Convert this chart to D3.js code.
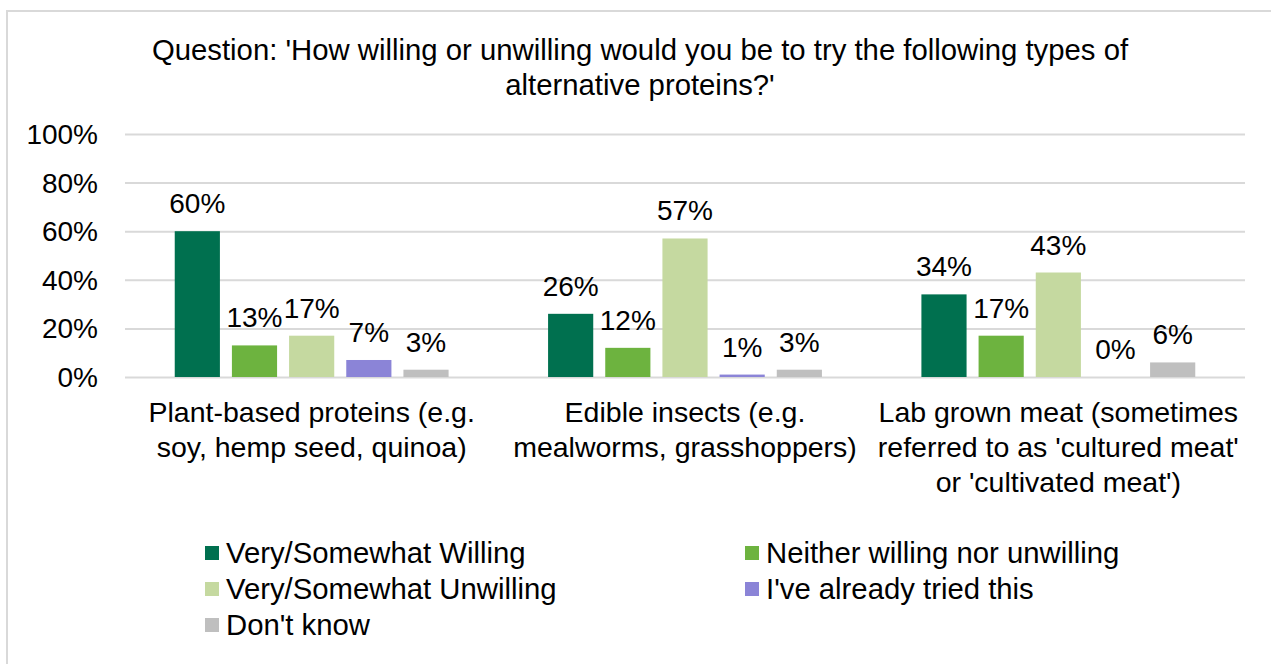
<!DOCTYPE html>
<html>
<head>
<meta charset="utf-8">
<script src="https://cdn.jsdelivr.net/npm/d3@7"></script>
<style>
  body { margin: 0; background: #fff; }
  text { font-family: "Liberation Sans", Arial, sans-serif; fill: #000; }
</style>
</head>
<body>
<div id="vis"></div>
<script>
// data
const CATEGORIES = ["Plant-based", "Insects", "Lab grown"];
const CATEGORY_LINES = [
  ["Plant-based proteins (e.g.", "soy, hemp seed, quinoa)"],
  ["Edible insects (e.g.", "mealworms, grasshoppers)"],
  ["Lab grown meat (sometimes", "referred to as 'cultured meat'", "or 'cultivated meat')"]
];
const SERIES = ["Very/Somewhat Willing", "Neither willing nor unwilling", "Very/Somewhat Unwilling",
                "I've already tried this", "Don't know"];
const COLORS = ["#00704f", "#6db33f", "#c5d9a0", "#8b84d7", "#bfbfbf"];
const WILLING = [60, 26, 34];
const NEITHER = [13, 12, 17];
const UNWILLING = [17, 57, 43];
const TRIED = [7, 1, 0];
const DONT_KNOW = [3, 3, 6];
const VALUES = [WILLING, NEITHER, UNWILLING, TRIED, DONT_KNOW];
const Y_TICKS = [0, 20, 40, 60, 80, 100];
const TITLE_LINES = ["Question: 'How willing or unwilling would you be to try the following types of",
                     "alternative proteins?'"];

//frame
const FRAME_WIDTH = 1271;
const FRAME_HEIGHT = 664;
const PLOT = {left: 125, right: 1245, top: 134, bottom: 377};

const svg = d3.select("#vis")
              .append("svg")
                .attr("width", FRAME_WIDTH)
                .attr("height", FRAME_HEIGHT);

// border (only top and left visible)
svg.append("rect")
   .attr("x", 7).attr("y", 11)
   .attr("width", FRAME_WIDTH + 10).attr("height", FRAME_HEIGHT + 10)
   .attr("fill", "none")
   .attr("stroke", "#d9d9d9")
   .attr("stroke-width", 2);

// title
svg.append("g").selectAll("text")
   .data(TITLE_LINES)
   .enter()
   .append("text")
     .attr("x", 640)
     .attr("y", (d, i) => 60 + i * 35)
     .attr("text-anchor", "middle")
     .style("font-size", "29.3px")
     .text(d => d);

// scales
const X0 = d3.scaleBand().domain(CATEGORIES).range([PLOT.left, PLOT.right]);
const X1 = d3.scaleBand().domain(SERIES).range([0, X0.bandwidth()])
             .paddingInner(0.21).paddingOuter(0.87);
const Y = d3.scaleLinear().domain([0, 100]).range([PLOT.bottom, PLOT.top]);

// gridlines
svg.append("g")
   .attr("transform", "translate(" + PLOT.left + ",0)")
   .call(d3.axisLeft(Y).tickValues(Y_TICKS).tickSize(-(PLOT.right - PLOT.left)).tickFormat(""))
   .call(g => g.select(".domain").remove())
   .call(g => g.selectAll("line").attr("stroke", "#d9d9d9").attr("stroke-width", 2));

// y tick labels
svg.append("g").selectAll("text")
   .data(Y_TICKS)
   .enter()
   .append("text")
     .attr("x", 98)
     .attr("y", d => Y(d) + 10)
     .attr("text-anchor", "end")
     .style("font-size", "28px")
     .text(d => d + "%");

// bars
const groups = svg.append("g").selectAll("g")
   .data(SERIES)
   .enter()
   .append("g")
     .attr("fill", (d, i) => COLORS[i]);

groups.selectAll("rect")
   .data((s, si) => CATEGORIES.map((c, ci) => ({c: c, s: s, v: VALUES[si][ci]})))
   .enter()
   .append("rect")
     .attr("x", d => X0(d.c) + X1(d.s))
     .attr("y", d => Y(d.v))
     .attr("width", X1.bandwidth())
     .attr("height", d => Y(0) - Y(d.v));

// value labels
groups.selectAll("text")
   .data((s, si) => CATEGORIES.map((c, ci) => ({c: c, s: s, v: VALUES[si][ci]})))
   .enter()
   .append("text")
     .attr("x", d => X0(d.c) + X1(d.s) + X1.bandwidth() / 2)
     .attr("y", d => Y(d.v) - 18)
     .attr("text-anchor", "middle")
     .style("font-size", "28px")
     .text(d => d.v + "%");

// category labels
const catLabels = svg.append("g").selectAll("text")
   .data(CATEGORIES)
   .enter()
   .append("text")
     .attr("text-anchor", "middle")
     .style("font-size", "28.5px");

catLabels.selectAll("tspan")
   .data((d, i) => CATEGORY_LINES[i].map(l => ({c: d, l: l})))
   .enter()
   .append("tspan")
     .attr("x", d => X0(d.c) + X0.bandwidth() / 2)
     .attr("y", (d, i) => 422 + i * 35)
     .text(d => d.l);

// legend
const LEG_X = [205, 745];
const legend = svg.append("g").selectAll("g")
   .data(SERIES)
   .enter()
   .append("g")
     .attr("transform", (d, i) => "translate(" + LEG_X[i % 2] + "," + (553 + Math.floor(i / 2) * 36) + ")");

legend.append("rect")
   .attr("x", 0).attr("y", -7)
   .attr("width", 14).attr("height", 14)
   .attr("fill", (d, i) => COLORS[i]);

legend.append("text")
   .attr("x", 21)
   .attr("y", 10)
   .style("font-size", "29.3px")
   .text(d => d);
</script>
</body>
</html>
